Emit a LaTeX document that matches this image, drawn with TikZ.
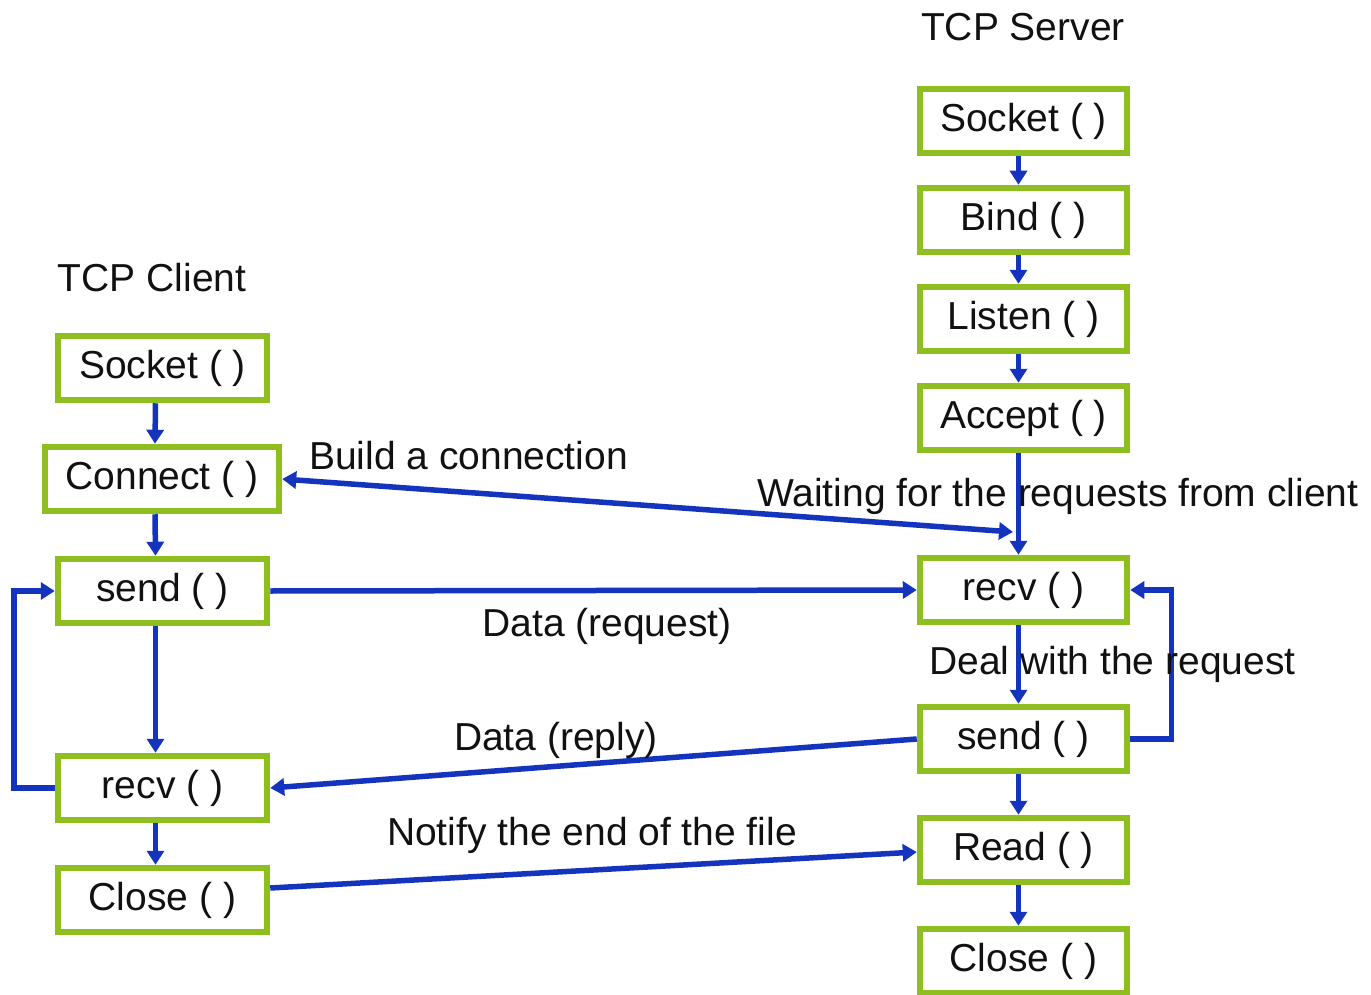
\documentclass[tikz,border=0pt]{standalone}
\usepackage{fontspec}
\setmainfont{Liberation Sans}
\usetikzlibrary{arrows.meta}
\definecolor{boxgreen}{RGB}{142,190,32}
\definecolor{flowblue}{RGB}{20,52,190}
\definecolor{ink}{RGB}{17,17,17}
\begin{document}
\begin{tikzpicture}[x=1pt,y=-1pt,
  every node/.style={font=\fontsize{39}{42}\selectfont, text=ink},
  fbox/.style={draw=boxgreen, line width=6.5pt, fill=white, inner sep=0pt,
    minimum width=207pt, minimum height=64pt},
  flow/.style={draw=flowblue, line width=5.5pt,
    -{Triangle[length=14pt,width=17pt]}},
  flow2/.style={draw=flowblue, line width=5.5pt,
    {Triangle[length=14pt,width=17pt]}-{Triangle[length=14pt,width=17pt]}},
  lbl/.style={inner sep=0pt}
]
\useasboundingbox (0,0) rectangle (1371,995);

% server column
\node[lbl] (stitle) at (1023,27) {TCP Server};
\node[fbox] (ssock)   at (1023.5,121) {Socket ( )};
\node[fbox] (sbind)   at (1023.5,220) {Bind ( )};
\node[fbox] (slisten) at (1023.5,319) {Listen ( )};
\node[fbox] (saccept) at (1023.5,418) {Accept ( )};
\node[fbox] (srecv)   at (1023.5,590) {recv ( )};
\node[fbox] (ssend)   at (1023.5,739) {send ( )};
\node[fbox] (sread)   at (1023.5,850) {Read ( )};
\node[fbox] (sclose)  at (1023.5,961) {Close ( )};

% client column
\node[lbl] (ctitle) at (152,278) {TCP Client};
\node[fbox, minimum width=209pt] (csock)    at (162.5,368) {Socket ( )};
\node[fbox, minimum width=234pt] (cconnect) at (162,479) {Connect ( )};
\node[fbox, minimum width=209pt] (csend)    at (162.5,591) {send ( )};
\node[fbox, minimum width=209pt] (crecv)    at (162.5,788) {recv ( )};
\node[fbox, minimum width=209pt] (cclose)   at (162.5,900) {Close ( )};

% server sequence
\draw[flow] ([xshift=-5pt]ssock.south)   -- ([xshift=-5pt]sbind.north);
\draw[flow] ([xshift=-5pt]sbind.south)   -- ([xshift=-5pt]slisten.north);
\draw[flow] ([xshift=-5pt]slisten.south) -- ([xshift=-5pt]saccept.north);
\draw[flow] ([xshift=-5pt]saccept.south) -- ([xshift=-5pt]srecv.north);
\draw[flow] ([xshift=-5pt]srecv.south)   -- ([xshift=-5pt]ssend.north);
\draw[flow] ([xshift=-5pt]ssend.south)   -- ([xshift=-5pt]sread.north);
\draw[flow] ([xshift=-5pt]sread.south)   -- ([xshift=-5pt]sclose.north);
\draw[flow] (ssend.east) -- ++(41,0) |- (srecv.east);

% client sequence
\draw[flow] ([xshift=-7pt]csock.south)    -- ([xshift=-7pt]cconnect.north);
\draw[flow] ([xshift=-7pt]cconnect.south) -- ([xshift=-7pt]csend.north);
\draw[flow] ([xshift=-7pt]csend.south)    -- ([xshift=-7pt]crecv.north);
\draw[flow] ([xshift=-7pt]crecv.south)    -- ([xshift=-7pt]cclose.north);
\draw[flow] (crecv.west) -- ++(-41,0) |- (csend.west);

% exchanges between client and server
\coordinate (handshake) at (1013,532);
\draw[flow2] (cconnect.east) -- (handshake);
\draw[flow] (csend.east) -- (srecv.west);
\draw[flow] (ssend.west) -- (crecv.east);
\draw[flow] ([yshift=12pt]cclose.east) -- ([yshift=-2pt]sread.west);

% labels
\node[lbl, anchor=west] (lbuild) at (309,456) {Build a connection};
\node[lbl, anchor=west] (lwait) at (757,496) {Waiting for the requests from client};
\node[lbl] (lreq) at (607,626) {Data (request)};
\node[lbl, anchor=west] (ldeal) at (929,664) {Deal with the request};
\node[lbl] (lreply) at (556,740) {Data (reply)};
\node[lbl] (lnotify) at (592,835) {Notify the end of the file};
\end{tikzpicture}
\end{document}
